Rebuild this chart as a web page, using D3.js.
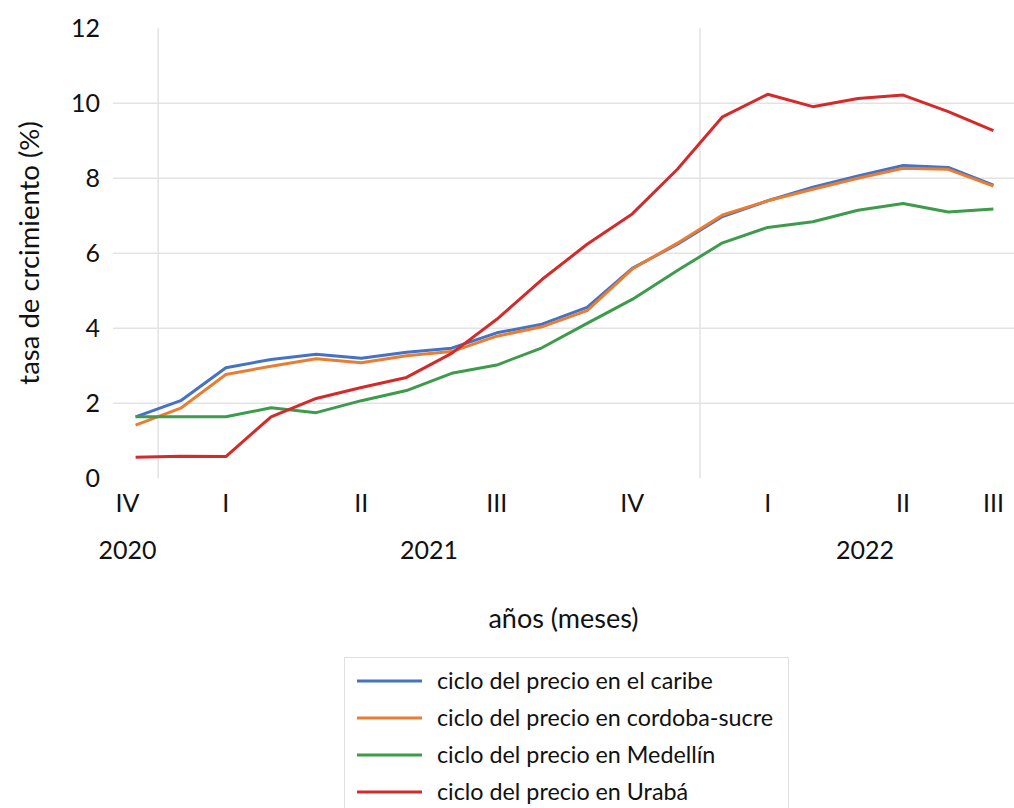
<!DOCTYPE html>
<html>
<head>
<meta charset="utf-8">
<script src="https://cdn.jsdelivr.net/npm/d3@7"></script>
<style>
  html, body { margin: 0; padding: 0; background: #fff; }
  svg text { font-family: Lato, "Open Sans", sans-serif; fill: #111; }
</style>
</head>
<body>
<svg id="chart" width="1014" height="808"></svg>
<script>
// monthly growth rates (%), Nov 2020 .. Jun 2022
const caribe   = [1.64, 2.07, 2.95, 3.17, 3.31, 3.20, 3.36, 3.47, 3.88, 4.11, 4.56, 5.60, 6.24, 6.98, 7.40, 7.76, 8.06, 8.34, 8.29, 7.82];
const cordoba  = [1.42, 1.87, 2.77, 2.99, 3.19, 3.08, 3.27, 3.38, 3.79, 4.04, 4.47, 5.58, 6.27, 7.02, 7.40, 7.71, 8.00, 8.27, 8.24, 7.79];
const medellin = [1.64, 1.64, 1.64, 1.88, 1.75, 2.07, 2.34, 2.80, 3.02, 3.48, 4.13, 4.77, 5.54, 6.28, 6.69, 6.84, 7.15, 7.33, 7.10, 7.18];
const uraba    = [0.56, 0.59, 0.58, 1.64, 2.13, 2.42, 2.69, 3.33, 4.24, 5.30, 6.24, 7.05, 8.24, 9.64, 10.24, 9.91, 10.13, 10.22, 9.78, 9.27];

const quarterLabels = ['IV', '', 'I', '', '', 'II', '', '', 'III', '', '', 'IV', '', '', 'I', '', '', 'II', '', 'III'];
const years     = ['2020', '2021', '2022'];
const yearStart = [0, 1, 13];
const yearEnd   = [0, 12, 19];

const seriesNames  = ['ciclo del precio en el caribe', 'ciclo del precio en cordoba-sucre',
                      'ciclo del precio en Medellín', 'ciclo del precio en Urabá'];
const seriesColors = ['#4472C4', '#EA7D32', '#3D9B4C', '#D42A2A'];
const yTicks = [0, 2, 4, 6, 8, 10, 12];

const allSeries = [caribe, cordoba, medellin, uraba];
const svg = d3.select('#chart');

const plotLeft = 113, plotRight = 1016, plotTop = 28.3, plotBottom = 478.3;

let x = d3.scaleBand()
    .domain(d3.range(quarterLabels.length))
    .range([plotLeft, plotRight])
    .padding(0);
let cx = i => x(i) + x.bandwidth() / 2;

let y = d3.scaleLinear()
    .domain([0, 12])
    .range([plotBottom, plotTop]);

// gridlines
svg.append('g')
    .selectAll('line')
    .data(yTicks.filter(t => t > 0 && t < 12))
    .enter()
    .append('line')
    .attr('x1', plotLeft).attr('x2', plotRight)
    .attr('y1', d => y(d)).attr('y2', d => y(d))
    .attr('stroke', '#e3e3e3')
    .attr('stroke-width', 1.5);

// year separators
svg.append('g')
    .selectAll('line')
    .data(yearStart.slice(1))
    .enter()
    .append('line')
    .attr('x1', d => x(d)).attr('x2', d => x(d))
    .attr('y1', plotTop).attr('y2', plotBottom)
    .attr('stroke', '#e3e3e3')
    .attr('stroke-width', 1.5);

// y tick labels
svg.append('g')
    .selectAll('text')
    .data(yTicks)
    .enter()
    .append('text')
    .attr('x', 100)
    .attr('y', d => y(d))
    .attr('dy', '0.35em')
    .attr('text-anchor', 'end')
    .style('font-size', '25px')
    .text(d => d);

// lines
let line = d3.line()
    .x((d, i) => cx(i))
    .y(d => y(d));

svg.append('g')
    .selectAll('path')
    .data(allSeries)
    .enter()
    .append('path')
    .attr('fill', 'none')
    .attr('stroke', (d, i) => seriesColors[i])
    .attr('stroke-width', 3)
    .attr('stroke-linejoin', 'round')
    .attr('d', line);

// quarter labels
svg.append('g')
    .selectAll('text')
    .data(quarterLabels.map((q, i) => ({q, i})).filter(d => d.q))
    .enter()
    .append('text')
    .attr('x', d => d.i === 0 ? cx(d.i) - 8 : cx(d.i))
    .attr('y', 512)
    .attr('text-anchor', 'middle')
    .style('font-size', '25px')
    .text(d => d.q);

// year labels
svg.append('g')
    .selectAll('text')
    .data(years)
    .enter()
    .append('text')
    .attr('x', (d, i) => i === 0 ? cx(0) - 8 : (cx(yearStart[i]) + cx(yearEnd[i])) / 2 + (i === 2 ? 7 : 0))
    .attr('y', 559)
    .attr('text-anchor', 'middle')
    .style('font-size', '25px')
    .text(d => d);

// axis titles
svg.append('text')
    .attr('x', (plotLeft + plotRight) / 2 - 1)
    .attr('y', 628)
    .attr('text-anchor', 'middle')
    .style('font-size', '27px')
    .text('años (meses)');

svg.append('text')
    .attr('transform', 'translate(39,253) rotate(-90)')
    .attr('text-anchor', 'middle')
    .style('font-size', '27.5px')
    .text('tasa de crcimiento (%)');

// legend
let legend = svg.append('g');
legend.append('rect')
    .attr('x', 344.5).attr('y', 657.5)
    .attr('width', 444).attr('height', 160)
    .attr('fill', 'none')
    .attr('stroke', '#e0e0e0');

let items = legend.selectAll('g.item')
    .data(seriesNames)
    .enter()
    .append('g')
    .attr('class', 'item')
    .attr('transform', (d, i) => `translate(0,${681 + i * 37})`);

items.append('line')
    .attr('x1', 357).attr('x2', 422)
    .attr('y1', 0).attr('y2', 0)
    .attr('stroke', (d, i) => seriesColors[i])
    .attr('stroke-width', 3);

items.append('text')
    .attr('x', 437)
    .attr('dy', '0.35em')
    .style('font-size', '23.3px')
    .text(d => d);
</script>
</body>
</html>
